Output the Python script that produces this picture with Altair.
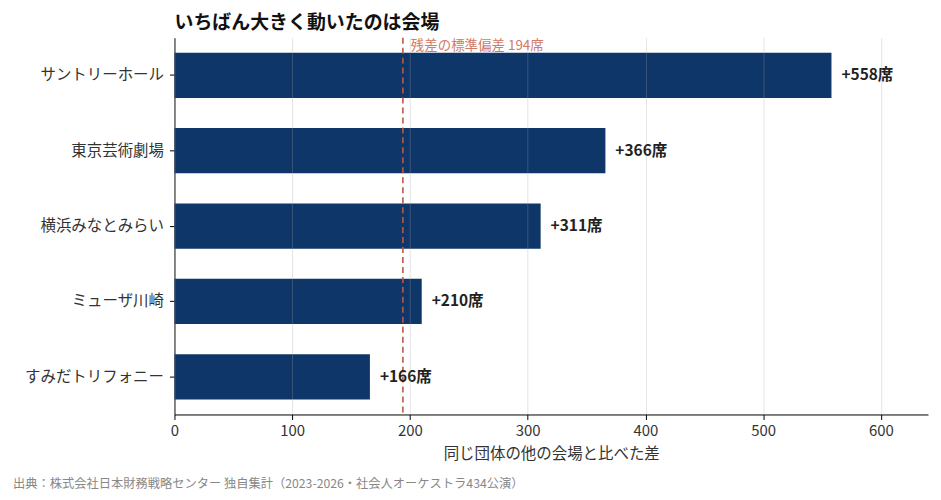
import altair as alt
import pandas as pd

venues = ["サントリーホール", "東京芸術劇場", "横浜みなとみらい", "ミューザ川崎", "すみだトリフォニー"]
values = [558, 366, 311, 210, 166]
labels = ["+558席", "+366席", "+311席", "+210席", "+166席"]
sd_value = [194]
sd_label = ["残差の標準偏差 194席"]
source = ["出典：株式会社日本財務戦略センター 独自集計（2023-2026・社会人オーケストラ434公演）"]

df = pd.DataFrame({"venue": venues, "value": values, "label": labels})
sd_df = pd.DataFrame({"sd": sd_value, "text": sd_label})
src_df = pd.DataFrame({"t": source})

FONT = "Noto Sans CJK JP"

x_scale = alt.Scale(domain=[0, 640], nice=False)
y_enc = alt.Y("venue:N", sort=venues, title=None,
              scale=alt.Scale(paddingInner=0.4, paddingOuter=0.2))

bars = alt.Chart(df).mark_bar(color="#0f3669").encode(
    x=alt.X("value:Q", scale=x_scale, title="同じ団体の他の会場と比べた差",
            axis=alt.Axis(values=[0, 100, 200, 300, 400, 500, 600], grid=True,
                          gridColor="#a0a0a0", gridOpacity=0.3, domainColor="#000",
                          tickColor="#000", labelFontSize=15, labelColor="#333",
                          labelFlush=False,
                          titleFontSize=15.5, titleColor="#333", titleFontWeight="normal",
                          titlePadding=8, labelPadding=4, zindex=1)),
    y=y_enc,
)

rule = alt.Chart(sd_df).mark_rule(color="#b85a45", strokeDash=[6, 4], strokeWidth=1.6).encode(
    x=alt.X("sd:Q", scale=x_scale)
)

sd_text = alt.Chart(sd_df).mark_text(align="left", baseline="top", dx=8, color="#d07a66",
                                      fontSize=13.5, font=FONT).encode(
    x=alt.X("sd:Q", scale=x_scale),
    y=alt.value(1),
    text="text:N",
)

texts = alt.Chart(df).mark_text(align="left", baseline="middle", dx=10, fontSize=15.5,
                                 fontWeight="bold", color="#222", font=FONT).encode(
    x=alt.X("value:Q", scale=x_scale),
    y=y_enc,
    text="label:N",
)

footer = alt.Chart(src_df).mark_text(
    align="left", baseline="middle", fontSize=12.3, color="#888", font=FONT
).encode(x=alt.value(-162), y=alt.value(448), text="t:N")

chart = alt.layer(bars, rule, texts, sd_text, footer).properties(
    width=756, height=378,
    title=alt.TitleParams("いちばん大きく動いたのは会場", anchor="start", frame="group",
                          fontSize=19, fontWeight="bold", color="#111", font=FONT, offset=4),
).configure_axis(
    labelFont=FONT, titleFont=FONT,
).configure_axisY(
    grid=False, domainColor="#000", tickColor="#000", labelFontSize=15.5, labelColor="#333",
    labelPadding=6,
).configure_view(stroke=None)

chart.save("out.html", embed_options={"renderer": "svg", "actions": False})
